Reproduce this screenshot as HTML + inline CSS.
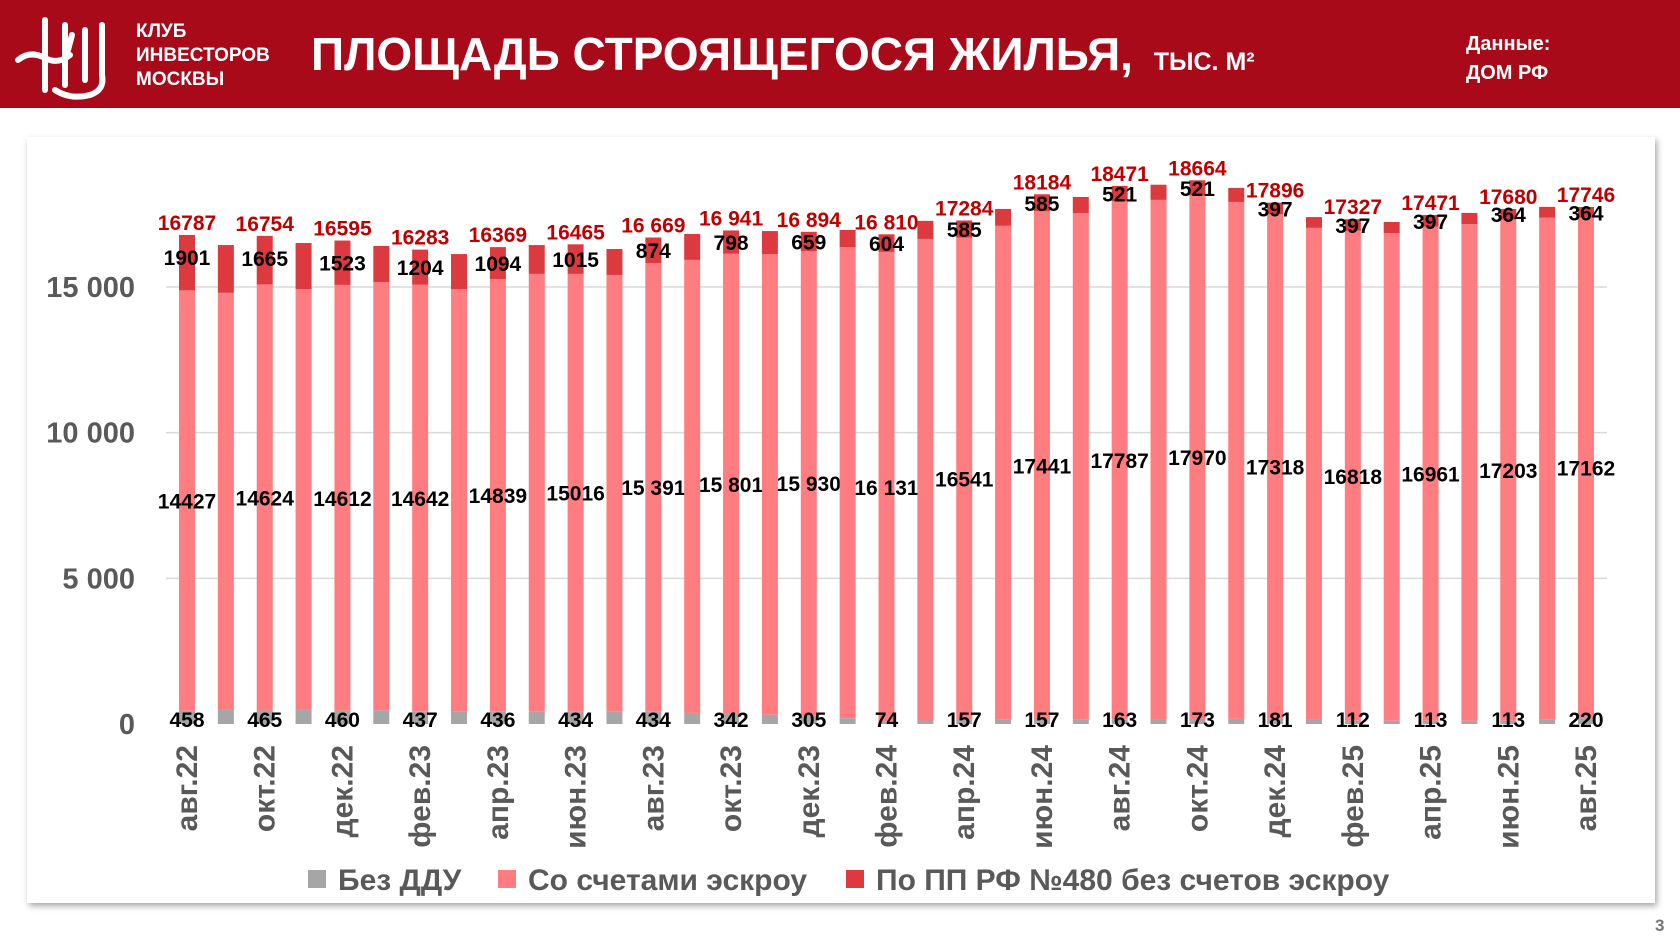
<!DOCTYPE html>
<html><head><meta charset="utf-8">
<style>
body{margin:0;width:1680px;height:945px;background:#fff;overflow:hidden;font-family:"Liberation Sans",sans-serif;position:relative}
#hdr{position:absolute;left:0;top:0;width:1680px;height:108px;background:#a80a1a}
.w{position:absolute;color:#fff;font-weight:bold}
#panel{position:absolute;left:27px;top:137px;width:1628px;height:766px;background:#fff;box-shadow:2px 3px 6px rgba(0,0,0,0.35)}
svg text{font-family:"Liberation Sans Narrow","Liberation Sans",sans-serif;font-weight:bold}
</style></head><body>
<div id="hdr">
<svg style="position:absolute;left:10px;top:10px" width="115" height="95" viewBox="0 0 115 95">
<g fill="none" stroke="#fff" stroke-width="6" stroke-linecap="round">
<path d="M35 10 L35 80"/><path d="M55 15 L55 75"/><path d="M75 20 L75 70"/><path d="M92 15 L92 65 Q95 80 80 85 Q60 90 45 80"/>
<path d="M8 50 Q20 40 35 48 Q48 55 60 45"/><path d="M62 25 L58 40"/>
</g></svg>
<div class="w" style="left:136px;top:20px;font-size:19px;line-height:24px;font-family:'Liberation Sans Narrow','Liberation Sans',sans-serif">КЛУБ<br>ИНВЕСТОРОВ<br>МОСКВЫ</div>
<div class="w" style="left:311px;top:27px;font-size:46px">ПЛОЩАДЬ СТРОЯЩЕГОСЯ ЖИЛЬЯ, <span style="font-size:25px;margin-left:8px">ТЫС. М²</span></div>
<div class="w" style="left:1466px;top:30px;font-size:20px;line-height:29px">Данные:<br>ДОМ РФ</div>
</div>
<div id="panel"></div>
<div style="position:absolute;left:1655px;top:916px;font-size:17px;font-weight:bold;color:#777">3</div>
<svg id="chart" style="position:absolute;left:0;top:0" width="1680" height="945"></svg>
<script>
const months=["авг.22","сен.22","окт.22","ноя.22","дек.22","янв.23","фев.23","мар.23","апр.23","май.23","июн.23","июл.23","авг.23","сен.23","окт.23","ноя.23","дек.23","янв.24","фев.24","мар.24","апр.24","май.24","июн.24","июл.24","авг.24","сен.24","окт.24","ноя.24","дек.24","янв.25","фев.25","мар.25","апр.25","май.25","июн.25","июл.25","авг.25"];
const bezDDU=[458,500,465,500,460,470,437,440,436,435,434,434,434,380,342,320,305,200,74,120,157,150,157,160,163,170,173,175,181,140,112,112,113,113,113,150,220];
const escrow=[14427,14300,14624,14430,14612,14700,14642,14490,14839,15015,15016,14980,15391,15550,15801,15810,15930,16170,16131,16530,16541,16950,17441,17380,17787,17820,17970,17745,17318,16890,16818,16740,16961,17050,17203,17230,17162];
const pp480=[1901,1640,1665,1580,1523,1240,1204,1200,1094,990,1015,890,874,890,798,790,659,590,604,620,585,580,585,550,521,521,521,480,397,370,397,380,397,380,364,370,364];
const totalLabels=["16787","","16754","","16595","","16283","","16369","","16465","","16 669","","16 941","","16 894","","16 810","","17284","","18184","","18471","","18664","","17896","","17327","","17471","","17680","","17746"];
const escrowLabels=["14427","","14624","","14612","","14642","","14839","","15016","","15 391","","15 801","","15 930","","16 131","","16541","","17441","","17787","","17970","","17318","","16818","","16961","","17203","","17162"];
const yTicks=[0,5000,10000,15000];
const yTickLabels=["0","5 000","10 000","15 000"];
const svg=document.getElementById('chart');const NS='http://www.w3.org/2000/svg';
const y0=724,k=(724-287)/15000,x0=187,dx=(1586-187)/36,bw=16;
const Y=v=>y0-v*k, X=i=>x0+i*dx;
function mk(t,a,txt){const e=document.createElementNS(NS,t);for(const p in a)e.setAttribute(p,a[p]);if(txt!==undefined)e.textContent=txt;svg.appendChild(e);return e;}
yTicks.forEach((v,i)=>{
 if(v>0){const l=mk('line',{x1:166,x2:1607,y1:Y(v),y2:Y(v),stroke:'#d9d9d9','stroke-width':1.5});
 }
 const t=mk('text',{x:135,y:Y(v)+10,'text-anchor':'end','font-size':29,fill:'#595959'},yTickLabels[i]);
 
});
months.forEach((m,i)=>{
 const x=X(i)-bw/2;let c=0;
 [[bezDDU[i],'#a6a6a6','bar-bez-ddu'],[escrow[i],'#ff7c80','bar-escrow'],[pp480[i],'#dc3a3e','bar-pp480']].forEach(s=>{
  const r=mk('rect',{x:x,y:Y(c+s[0]),width:bw,height:s[0]*k,fill:s[1]});
  c+=s[0];});
 if(i%2===0){
  const tot=bezDDU[i]+escrow[i]+pp480[i];
  let t=mk('text',{x:X(i),y:Y(tot)-5,'text-anchor':'middle','font-size':21,fill:'#c00000'},totalLabels[i]);
  
  const ppY=Math.min(Y(bezDDU[i]+escrow[i]+pp480[i]/2)+8,Y(tot)+30);
  t=mk('text',{x:X(i),y:ppY,'text-anchor':'middle','font-size':21,fill:'#000'},String(pp480[i]));
  
  t=mk('text',{x:X(i),y:Y(bezDDU[i]+escrow[i]/2)+8,'text-anchor':'middle','font-size':21,fill:'#000'},escrowLabels[i]);
  
  t=mk('text',{x:X(i),y:y0+3,'text-anchor':'middle','font-size':21,fill:'#000'},String(bezDDU[i]));
  
  t=mk('text',{x:0,y:0,'text-anchor':'end','font-size':30,fill:'#595959',transform:`translate(${X(i)+10},745) rotate(-90)`},m);
  
 }
});
const leg=[["Без ДДУ",'#a6a6a6',308],["Со счетами эскроу",'#ff7c80',498],["По ПП РФ №480 без счетов эскроу",'#dc3a3e',846]];
leg.forEach(l=>{
 const r=mk('rect',{x:l[2],y:870,width:18,height:18,fill:l[1]});
 
 const t=mk('text',{x:l[2]+30,y:890,'font-size':30,fill:'#595959'},l[0]);
 
});
</script>
</body></html>
